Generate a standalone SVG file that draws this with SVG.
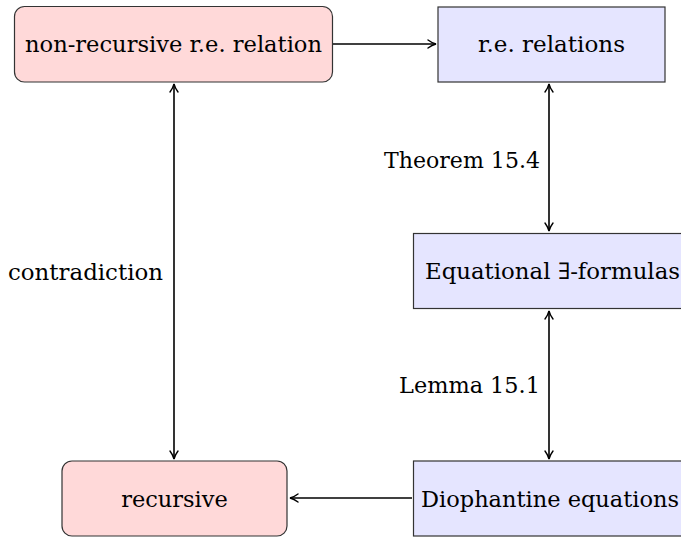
<svg xmlns="http://www.w3.org/2000/svg" width="681" height="539" viewBox="0 0 681 539">
<style>
text{font-family:'DejaVu Serif','Liberation Serif',serif;font-size:22.5px;fill:#000}
.pink{fill:#ffd9d9;stroke:#333;stroke-width:1.2}
.blue{fill:#e5e5ff;stroke:#333;stroke-width:1.2}
.c{text-anchor:middle;dominant-baseline:central}
.r{text-anchor:end;dominant-baseline:central}
.l{dominant-baseline:central}
.e{stroke:#000;stroke-width:1.6;fill:none}
</style>
<defs>
<marker id="ah" viewBox="0 0 10 10" refX="9" refY="5" markerWidth="10" markerHeight="10" markerUnits="userSpaceOnUse" orient="auto-start-reverse">
<path d="M1,1 Q5,4 9,5 Q5,6 1,9" fill="none" stroke="#000" stroke-width="1.4" stroke-linecap="round"/>
</marker>
</defs>
<g id="connectors">
<line class="e" x1="333" y1="44" x2="436" y2="44" marker-end="url(#ah)"/>
<line class="e" x1="174" y1="84" x2="174" y2="459" marker-start="url(#ah)" marker-end="url(#ah)"/>
<line class="e" x1="549" y1="84" x2="549" y2="231" marker-start="url(#ah)" marker-end="url(#ah)"/>
<line class="e" x1="549" y1="311" x2="549" y2="459" marker-start="url(#ah)" marker-end="url(#ah)"/>
<line class="e" x1="412" y1="498" x2="290" y2="498" marker-end="url(#ah)"/>
<text class="l" x="384" y="160" textLength="156" lengthAdjust="spacingAndGlyphs">Theorem 15.4</text>
<text class="l" x="399" y="385" textLength="141" lengthAdjust="spacingAndGlyphs">Lemma 15.1</text>
<text class="l" x="8" y="272" textLength="155" lengthAdjust="spacingAndGlyphs">contradiction</text>
</g>
<g id="n1"><rect class="pink" x="14.5" y="6.5" width="318" height="75.5" rx="10"/><text class="l" x="25" y="44" textLength="297" lengthAdjust="spacingAndGlyphs">non-recursive r.e. relation</text></g>
<g id="n2"><rect class="blue" x="438" y="7" width="227" height="75"/><text class="l" x="478" y="44" textLength="147" lengthAdjust="spacingAndGlyphs">r.e. relations</text></g>
<g id="n3"><rect class="blue" x="413.5" y="233.5" width="290" height="75"/><text class="l" x="425" y="271" textLength="255" lengthAdjust="spacingAndGlyphs">Equational ∃-formulas</text></g>
<g id="n4"><rect class="pink" x="62" y="461" width="225" height="75" rx="10"/><text class="c" x="174.5" y="498.5">recursive</text></g>
<g id="n5"><rect class="blue" x="413.5" y="461" width="290" height="75"/><text class="l" x="421" y="498.5" textLength="258" lengthAdjust="spacingAndGlyphs">Diophantine equations</text></g>
</svg>
